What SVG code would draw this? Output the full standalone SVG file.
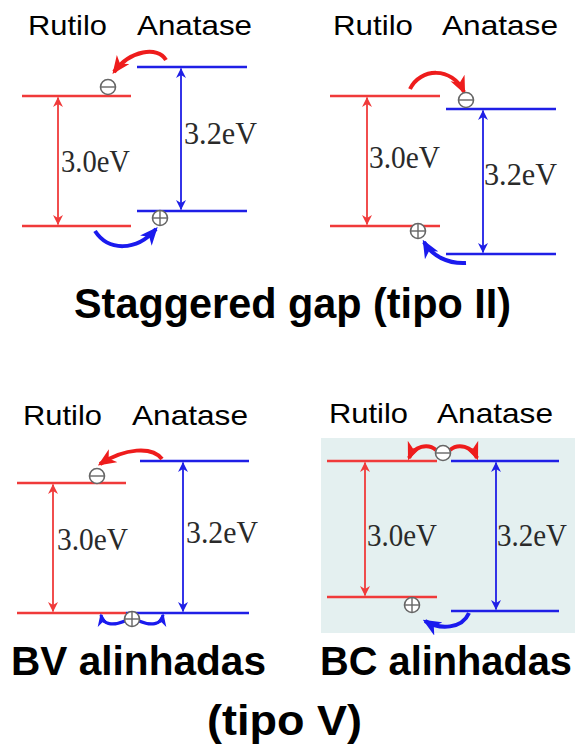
<svg xmlns="http://www.w3.org/2000/svg" width="580" height="753" viewBox="0 0 580 753">
<style>
.lbl{font-family:"Liberation Sans",Arial,sans-serif;font-size:28px;fill:#000}
.ev{font-family:"Liberation Serif","Times New Roman",serif;font-size:31px;fill:#2a2a2a}
.ttl{font-family:"Liberation Sans",Arial,sans-serif;font-size:42px;font-weight:bold;fill:#000}
.ttl2{font-family:"Liberation Sans",Arial,sans-serif;font-size:40px;font-weight:bold;fill:#000}
.lr{stroke:#f03a3a;stroke-width:2.5;fill:none}
.lb{stroke:#1f1fe6;stroke-width:2.5;fill:none}
.ar{stroke:#f03a3a;stroke-width:1.8;fill:none;marker-start:url(#hr);marker-end:url(#hr)}
.ab{stroke:#1f1fe6;stroke-width:1.8;fill:none;marker-start:url(#hb);marker-end:url(#hb)}
.cr{stroke:#ee1c1c;stroke-width:4;fill:none;marker-end:url(#kr)}
.cb{stroke:#1a1aee;stroke-width:4;fill:none;marker-end:url(#kb)}
.cbs{stroke:#1a1aee;stroke-width:3.2;fill:none;marker-end:url(#kbs)}
.q{stroke:#666;stroke-width:1.6;fill:#fff}
.qs{stroke:#666;stroke-width:1.4}
</style>
<defs>
<marker id="hr" viewBox="0 0 10 10" refX="9.5" refY="5" markerWidth="11" markerHeight="10" markerUnits="userSpaceOnUse" orient="auto-start-reverse"><path d="M0,0 L10,5 L0,10 L3,5 Z" fill="#f03a3a"/></marker>
<marker id="hb" viewBox="0 0 10 10" refX="9.5" refY="5" markerWidth="11" markerHeight="10" markerUnits="userSpaceOnUse" orient="auto-start-reverse"><path d="M0,0 L10,5 L0,10 L3,5 Z" fill="#1f1fe6"/></marker>
<marker id="kr" viewBox="0 0 14 12" refX="12" refY="6" markerWidth="18" markerHeight="16" markerUnits="userSpaceOnUse" orient="auto"><path d="M0,0 L14,6 L0,12 L4,6 Z" fill="#ee1c1c"/></marker>
<marker id="kb" viewBox="0 0 14 12" refX="12" refY="6" markerWidth="18" markerHeight="16" markerUnits="userSpaceOnUse" orient="auto"><path d="M0,0 L14,6 L0,12 L4,6 Z" fill="#1a1aee"/></marker>
<marker id="kbs" viewBox="0 0 14 12" refX="12" refY="6" markerWidth="13" markerHeight="12" markerUnits="userSpaceOnUse" orient="auto"><path d="M0,0 L14,6 L0,12 L4,6 Z" fill="#1a1aee"/></marker>
</defs>
<rect width="580" height="753" fill="#fff"/>

<!-- Panel 1 -->
<g id="panel1">
<text class="lbl" x="28" y="35" textLength="79" lengthAdjust="spacingAndGlyphs">Rutilo</text>
<text class="lbl" x="137" y="35" textLength="115" lengthAdjust="spacingAndGlyphs">Anatase</text>
<line class="lr" x1="22" y1="96" x2="131" y2="96"/>
<line class="lr" x1="22" y1="226" x2="131" y2="226"/>
<line class="lb" x1="137" y1="67" x2="247" y2="67"/>
<line class="lb" x1="137" y1="211" x2="247" y2="211"/>
<text class="ev" x="61" y="172" textLength="69" lengthAdjust="spacingAndGlyphs">3.0eV</text>
<text class="ev" x="184" y="144" textLength="73" lengthAdjust="spacingAndGlyphs">3.2eV</text>
</g>
<!-- Panel 2 -->
<g id="panel2">
<text class="lbl" x="333" y="35" textLength="80" lengthAdjust="spacingAndGlyphs">Rutilo</text>
<text class="lbl" x="442" y="35" textLength="116" lengthAdjust="spacingAndGlyphs">Anatase</text>
<line class="lr" x1="330" y1="96" x2="440" y2="96"/>
<line class="lr" x1="330" y1="226" x2="440" y2="226"/>
<line class="lb" x1="446" y1="109" x2="556" y2="109"/>
<line class="lb" x1="446" y1="254" x2="556" y2="254"/>
<text class="ev" x="369" y="168" textLength="71" lengthAdjust="spacingAndGlyphs">3.0eV</text>
<text class="ev" x="484" y="185" textLength="73" lengthAdjust="spacingAndGlyphs">3.2eV</text>
</g>
<!-- Panel 3 -->
<g id="panel3">
<text class="lbl" x="23" y="425" textLength="79" lengthAdjust="spacingAndGlyphs">Rutilo</text>
<text class="lbl" x="132" y="425" textLength="116" lengthAdjust="spacingAndGlyphs">Anatase</text>
<line class="lr" x1="17" y1="483" x2="126" y2="483"/>
<line class="lb" x1="140" y1="461" x2="249" y2="461"/>
<line class="lb" x1="126" y1="613" x2="249" y2="613"/>
<line class="lr" x1="17" y1="613" x2="126" y2="613"/>
<text class="ev" x="57" y="550" textLength="71" lengthAdjust="spacingAndGlyphs">3.0eV</text>
<text class="ev" x="186" y="543" textLength="72" lengthAdjust="spacingAndGlyphs">3.2eV</text>
</g>
<!-- Panel 4 -->
<g id="panel4">
<rect x="321" y="438" width="254" height="195" fill="#e4f0f0"/>
<text class="lbl" x="329" y="423" textLength="79" lengthAdjust="spacingAndGlyphs">Rutilo</text>
<text class="lbl" x="437" y="423" textLength="116" lengthAdjust="spacingAndGlyphs">Anatase</text>
<line class="lr" x1="327" y1="461" x2="437" y2="461"/>
<line class="lr" x1="327" y1="597" x2="437" y2="597"/>
<line class="lb" x1="451" y1="461" x2="559" y2="461"/>
<line class="lb" x1="451" y1="611" x2="559" y2="611"/>
<text class="ev" x="367" y="546" textLength="70" lengthAdjust="spacingAndGlyphs">3.0eV</text>
<text class="ev" x="497" y="546" textLength="70" lengthAdjust="spacingAndGlyphs">3.2eV</text>
</g>

<g id="connectors">
<line class="ar" x1="58" y1="97.5" x2="58" y2="224.5"/>
<line class="ab" x1="181" y1="68.5" x2="181" y2="209.5"/>
<path class="cr" d="M166,60 C158,46 130,50 114,72"/>
<path class="cb" d="M95,231 C108,251 136,252 156,229"/>

<line class="ar" x1="367" y1="97.5" x2="367" y2="224.5"/>
<line class="ab" x1="483" y1="110.5" x2="483" y2="252.5"/>
<path class="cr" d="M410,89 C420,68 452,66 464,92"/>
<path class="cb" d="M466,263 C448,264 432,256 424,242"/>

<line class="ar" x1="53" y1="484.5" x2="53" y2="611.5"/>
<line class="ab" x1="183" y1="462.5" x2="183" y2="611.5"/>
<path class="cr" d="M162,459 C152,446 125,448 100,464"/>
<path class="cbs" d="M125,621 C113,626 103,625 101,615"/>
<path class="cbs" d="M139,621 C151,626 161,625 163,615"/>

<line class="ar" x1="365" y1="462.5" x2="365" y2="595.5"/>
<line class="ab" x1="496" y1="462.5" x2="496" y2="609.5"/>
<path class="cr" d="M436,450 C428,443 414,446 409,458"/>
<path class="cr" d="M450,450 C458,443 472,446 477,458"/>
<path class="cb" d="M469,613 C462,629 440,630 425,621"/>
</g>

<g id="carriers">
<circle class="q" cx="108" cy="87" r="7.5"/><line class="qs" x1="101" y1="87" x2="115" y2="87"/>
<circle class="q" cx="160" cy="218" r="7.5"/><line class="qs" x1="153" y1="218" x2="167" y2="218"/><line class="qs" x1="160" y1="211" x2="160" y2="225"/>
<circle class="q" cx="466" cy="100" r="7.5"/><line class="qs" x1="459" y1="100" x2="473" y2="100"/>
<circle class="q" cx="418" cy="231" r="7.5"/><line class="qs" x1="411" y1="231" x2="425" y2="231"/><line class="qs" x1="418" y1="224" x2="418" y2="238"/>
<circle class="q" cx="97" cy="476" r="7.5"/><line class="qs" x1="90" y1="476" x2="104" y2="476"/>
<circle class="q" cx="132" cy="619" r="7.5"/><line class="qs" x1="125" y1="619" x2="139" y2="619"/><line class="qs" x1="132" y1="612" x2="132" y2="626"/>
<circle class="q" cx="443" cy="453" r="7.5"/><line class="qs" x1="436" y1="453" x2="450" y2="453"/>
<circle class="q" cx="412" cy="605" r="7.5"/><line class="qs" x1="405" y1="605" x2="419" y2="605"/><line class="qs" x1="412" y1="598" x2="412" y2="612"/>
</g>

<g id="titles">
<text class="ttl" x="74" y="318" textLength="437" lengthAdjust="spacingAndGlyphs">Staggered gap (tipo II)</text>
<text class="ttl2" x="11" y="675" textLength="255" lengthAdjust="spacingAndGlyphs">BV alinhadas</text>
<text class="ttl2" x="320" y="675" textLength="252" lengthAdjust="spacingAndGlyphs">BC alinhadas</text>
<text class="ttl" x="207" y="735" textLength="155" lengthAdjust="spacingAndGlyphs">(tipo V)</text>
</g>
</svg>
